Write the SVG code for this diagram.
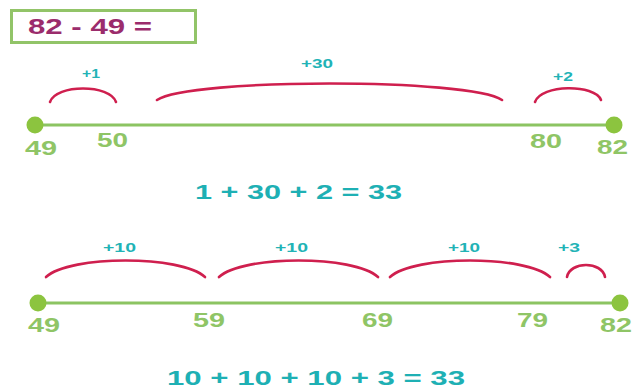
<svg xmlns="http://www.w3.org/2000/svg" width="635" height="392" viewBox="0 0 635 392">
<style>
text{font-family:"Liberation Sans",Arial,sans-serif;font-weight:bold}
.num{fill:#8fc566;font-size:21px}
.jump{fill:#22b3b6;font-size:13px}
.eq{fill:#1eb0b4;font-size:21px}
.title{fill:#9b2c6c;font-size:22px}
.line{stroke:#8cc462;stroke-width:3;fill:none}
.dot{fill:#8cc43f}
.arc{stroke:#cf1f4e;stroke-width:2.6;fill:none;stroke-linecap:round}
</style>
<rect width="635" height="392" fill="#ffffff"/>
<g id="title">
<rect x="11.5" y="10.5" width="184" height="32" fill="none" stroke="#92c468" stroke-width="3"/>
<text class="title" x="28" y="34" textLength="124" lengthAdjust="spacingAndGlyphs">82 - 49 =</text>
</g>
<g id="line1">
<line class="line" x1="35" y1="125" x2="614" y2="125"/>
<circle class="dot" cx="35" cy="125" r="8.5"/>
<circle class="dot" cx="614" cy="125" r="8.5"/>
<text class="num" x="25" y="155" textLength="32" lengthAdjust="spacingAndGlyphs">49</text>
<text class="num" x="97" y="147" textLength="31" lengthAdjust="spacingAndGlyphs">50</text>
<text class="num" x="530" y="148" textLength="32" lengthAdjust="spacingAndGlyphs">80</text>
<text class="num" x="597" y="154" textLength="31" lengthAdjust="spacingAndGlyphs">82</text>
</g>
<g id="jumps1-labels">
<text class="jump" x="82" y="78" textLength="18" lengthAdjust="spacingAndGlyphs">+1</text>
<text class="jump" x="301" y="68" textLength="32" lengthAdjust="spacingAndGlyphs">+30</text>
<text class="jump" x="553" y="81" textLength="20" lengthAdjust="spacingAndGlyphs">+2</text>
</g>
<g id="eq1">
<text class="eq" x="195" y="199" textLength="207" lengthAdjust="spacingAndGlyphs">1 + 30 + 2 = 33</text>
</g>
<g id="line2">
<line class="line" x1="38" y1="303" x2="620" y2="303"/>
<circle class="dot" cx="38" cy="303" r="8.5"/>
<circle class="dot" cx="620" cy="303" r="8.5"/>
<text class="num" x="28" y="332" textLength="32" lengthAdjust="spacingAndGlyphs">49</text>
<text class="num" x="193" y="327" textLength="32" lengthAdjust="spacingAndGlyphs">59</text>
<text class="num" x="362" y="327" textLength="31" lengthAdjust="spacingAndGlyphs">69</text>
<text class="num" x="517" y="327" textLength="31" lengthAdjust="spacingAndGlyphs">79</text>
<text class="num" x="600" y="332" textLength="32" lengthAdjust="spacingAndGlyphs">82</text>
</g>
<g id="jumps2-labels">
<text class="jump" x="103" y="252" textLength="33" lengthAdjust="spacingAndGlyphs">+10</text>
<text class="jump" x="275" y="252" textLength="33" lengthAdjust="spacingAndGlyphs">+10</text>
<text class="jump" x="448" y="252" textLength="32" lengthAdjust="spacingAndGlyphs">+10</text>
<text class="jump" x="558" y="252" textLength="22" lengthAdjust="spacingAndGlyphs">+3</text>
</g>
<g id="eq2">
<text class="eq" x="167" y="385" textLength="298" lengthAdjust="spacingAndGlyphs">10 + 10 + 10 + 3 = 33</text>
</g>
<g id="connectors">
<path class="arc" d="M50 102 C56 84 110 84 116 102"/>
<path class="arc" d="M157 100 C190 78 470 78 502 100"/>
<path class="arc" d="M535 102 C541 84 595 84 601 100"/>
<path class="arc" d="M46 277 C70 255 181 255 205 277"/>
<path class="arc" d="M219 277 C243 255 354 255 378 277"/>
<path class="arc" d="M390 277 C414 255 526 255 550 277"/>
<path class="arc" d="M567 277 C570 261 602 261 605 277"/>
</g>
</svg>
